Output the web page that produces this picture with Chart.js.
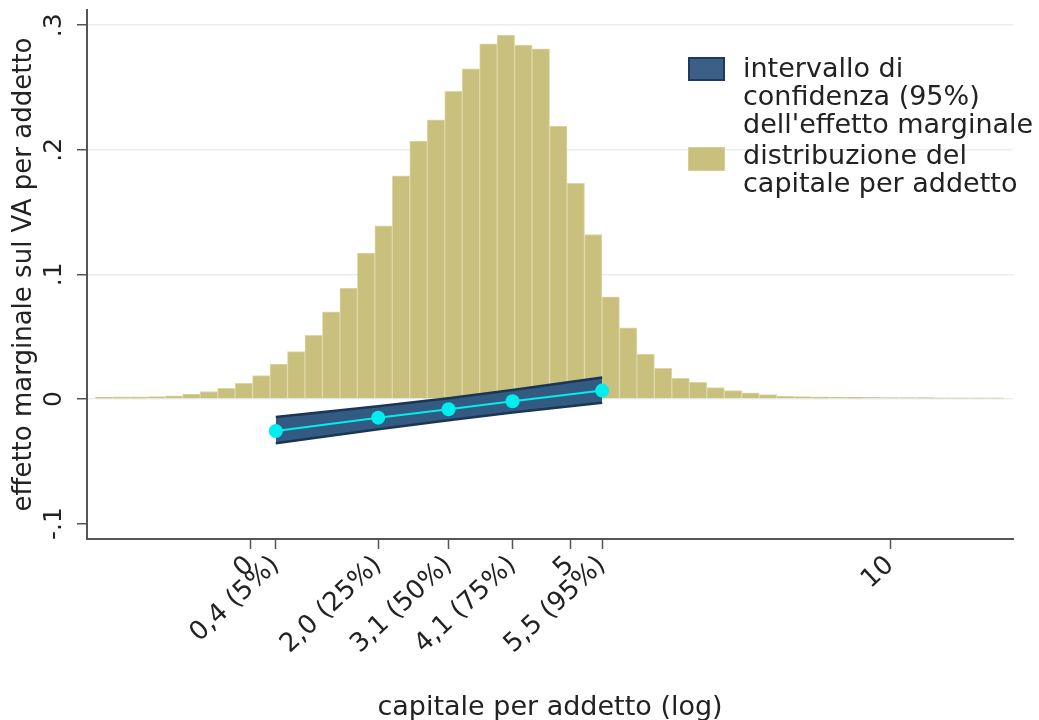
<!DOCTYPE html>
<html>
<head>
<meta charset="utf-8">
<script src="https://cdn.jsdelivr.net/npm/chart.js@4.4.1/dist/chart.umd.min.js"></script>
<style>
  body { margin: 0; background: #fff; }
  #wrap { position: relative; width: 1039px; height: 720px; }
  #legend { position: absolute; left: 0; top: 0; font-family: 'DejaVu Sans', sans-serif; font-size: 27px; line-height: 28px; color: #222; }
  #legend .sw { position: absolute; width: 37px; height: 24px; box-sizing: border-box; }
  #legend .txt { position: absolute; white-space: nowrap; }
</style>
</head>
<body>
<div id="wrap">
  <canvas id="chart" width="1039" height="720"></canvas>
  <div id="legend">
    <div class="sw" style="left:688px; top:57px; background:#3c5f87; border:2px solid #1e3b5c;"></div>
    <div class="txt" style="left:743px; top:54px;">intervallo di<br>confidenza (95%)<br>dell'effetto marginale</div>
    <div class="sw" style="left:688px; top:147px; background:#c8c07c; border:1px solid #d6cf98;"></div>
    <div class="txt" style="left:743px; top:141px;">distribuzione del<br>capitale per addetto</div>
  </div>
</div>
<script>
// histogram of capital per worker (log)
const binStart = -2.42;
const binWidth = 0.273;
const histHeights = [
    0.0015, 0.0017, 0.0018, 0.0020, 0.0025, 0.0040, 0.0060, 0.0086, 0.0126, 0.0187,
    0.028, 0.038, 0.051, 0.070, 0.089, 0.117, 0.139, 0.179, 0.207, 0.224,
    0.247, 0.265, 0.285, 0.292, 0.284, 0.281, 0.219, 0.173, 0.132, 0.082,
    0.057, 0.036, 0.0246, 0.0166, 0.0134, 0.0091, 0.0067, 0.0050, 0.0035, 0.0024,
    0.0020, 0.0018, 0.0016, 0.0015, 0.0013, 0.0012, 0.0012, 0.0011, 0.0010, 0.0010,
    0.0010, 0.0010
];

// marginal effect at percentiles
const pctPoints = [0.4, 2.0, 3.1, 4.1, 5.5];
const pctLabels = ['0,4 (5%)', '2,0 (25%)', '3,1 (50%)', '4,1 (75%)', '5,5 (95%)'];
const effect = [-0.0257, -0.0150, -0.0082, -0.0018, 0.0067];
const ciUpper = [-0.0145, -0.0058, 0.0006, 0.0072, 0.0172];
const ciLower = [-0.0355, -0.0244, -0.0170, -0.0108, -0.0030];

const majorTicks = [0, 5, 10];
const yTicks = [-0.1, 0, 0.1, 0.2, 0.3];
const yTickLabels = ['-.1', '0', '.1', '.2', '.3'];

const xTicks = majorTicks.map(v => ({ value: v, label: String(v) }))
    .concat(pctPoints.map((v, i) => ({ value: v, label: pctLabels[i] })))
    .sort((a, b) => a.value - b.value);

const histData = histHeights.map((h, k) => ({ x: binStart + binWidth * (k + 0.5), y: h }));
const upperData = pctPoints.map((x, i) => ({ x: x, y: ciUpper[i] }));
const lowerData = pctPoints.map((x, i) => ({ x: x, y: ciLower[i] }));
const effectData = pctPoints.map((x, i) => ({ x: x, y: effect[i] }));

Chart.defaults.font.family = "'DejaVu Sans', sans-serif";
Chart.defaults.color = '#222';

new Chart(document.getElementById('chart'), {
    type: 'bar',
    data: {
        datasets: [
            {
                type: 'bar',
                data: histData,
                backgroundColor: '#c8c07c',
                borderColor: '#ddd7a8',
                borderWidth: 1,
                barPercentage: 1,
                categoryPercentage: 1,
                order: 3
            },
            {
                type: 'line',
                data: upperData,
                borderColor: '#1b3654',
                borderWidth: 2.5,
                pointRadius: 0,
                fill: false,
                order: 2
            },
            {
                type: 'line',
                data: lowerData,
                borderColor: '#1b3654',
                borderWidth: 2.5,
                backgroundColor: '#335a80',
                pointRadius: 0,
                fill: '-1',
                order: 2
            },
            {
                type: 'line',
                data: effectData,
                borderColor: '#00eef0',
                borderWidth: 2,
                pointRadius: 7,
                pointBackgroundColor: '#00eef0',
                pointBorderWidth: 0,
                fill: false,
                order: 1
            }
        ]
    },
    options: {
        responsive: false,
        animation: false,
        layout: { padding: { left: 0, right: 26, top: 10, bottom: 0 } },
        plugins: {
            legend: { display: false },
            tooltip: { enabled: false }
        },
        scales: {
            x: {
                type: 'linear',
                min: -2.55,
                max: 11.92,
                offset: false,
                afterBuildTicks: scale => { scale.ticks = xTicks.map(t => ({ value: t.value })); },
                afterFit: scale => { scale.height = 181; scale.paddingLeft = 0; scale.paddingRight = 0; },
                ticks: {
                    autoSkip: false,
                    minRotation: 43,
                    maxRotation: 43,
                    padding: 1,
                    font: { size: 26 },
                    callback: (value, index) => xTicks[index] ? xTicks[index].label : ''
                },
                grid: { drawOnChartArea: false, tickLength: 10, tickColor: '#555', tickWidth: 1.5, offset: false },
                border: { color: '#555', width: 2 },
                title: {
                    display: true,
                    text: 'capitale per addetto (log)',
                    font: { size: 27 },
                    padding: { top: 0, bottom: -4 }
                }
            },
            y: {
                min: -0.1124,
                max: 0.3122,
                afterBuildTicks: scale => { scale.ticks = yTicks.map(v => ({ value: v })); },
                afterFit: scale => { scale.width = 87; scale.paddingTop = 0; scale.paddingBottom = 0; },
                ticks: {
                    minRotation: 90,
                    maxRotation: 90,
                    crossAlign: 'center',
                    padding: 6,
                    font: { size: 25 },
                    callback: (value, index) => yTickLabels[index]
                },
                grid: {
                    color: ctx => (ctx.tick && ctx.tick.value < -0.05) ? 'rgba(0,0,0,0)' : '#e6eef0',
                    lineWidth: 1.5,
                    tickLength: 10,
                    tickColor: '#555',
                    tickWidth: 1.5
                },
                border: { color: '#555', width: 2 },
                title: {
                    display: true,
                    text: 'effetto marginale sul VA per addetto',
                    font: { size: 26 },
                    padding: { top: 9, bottom: 0 }
                }
            }
        }
    }
});
</script>
</body>
</html>
